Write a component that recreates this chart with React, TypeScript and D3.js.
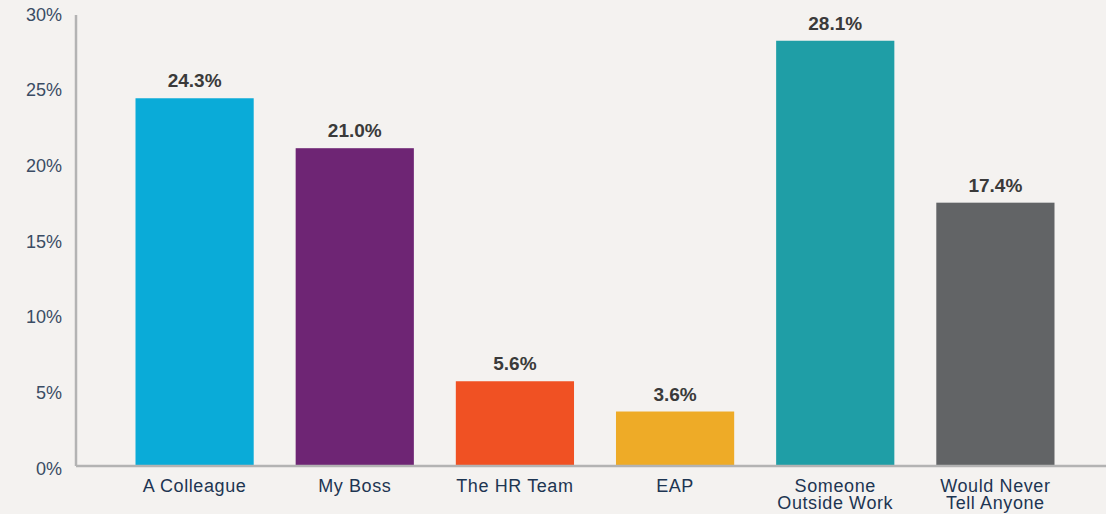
import React from "react";
import * as d3 from "d3";

const categories: string[][] = [
  ["A Colleague"],
  ["My Boss"],
  ["The HR Team"],
  ["EAP"],
  ["Someone", "Outside Work"],
  ["Would Never", "Tell Anyone"],
];
const values: number[] = [24.3, 21.0, 5.6, 3.6, 28.1, 17.4];
const colors: string[] = ["#0aabd8", "#6e2574", "#f05123", "#eeab27", "#1f9ea6", "#626466"];
const yTicks: number[] = [0, 5, 10, 15, 20, 25, 30];

const W = 1106;
const H = 514;

export default function App() {
  const keys = categories.map((c) => c.join(" "));
  const x = d3.scaleBand<string>().domain(keys).range([135.5, 1054.5]).paddingInner(0.262).paddingOuter(0);
  const y = d3.scaleLinear().domain([0, 30]).range([466, 12]);
  const font = "'Liberation Sans', Arial, Helvetica, sans-serif";
  return (
    <svg width={W} height={H} style={{ position: "absolute", left: 0, top: 0, display: "block", background: "#f4f2f0" }}>
      <rect x={0} y={0} width={W} height={H} fill="#f4f2f0" />
      {values.map((v, i) => (
        <rect key={keys[i]} x={x(keys[i])} y={y(v)} width={x.bandwidth()} height={y(0) - y(v)} fill={colors[i]} />
      ))}
      <line x1={76} x2={76} y1={15} y2={y(0)} stroke="#b3b3b3" strokeWidth={2.5} />
      <line x1={76} x2={W} y1={y(0)} y2={y(0)} stroke="#b3b3b3" strokeWidth={2.5} />
      {yTicks.map((t) => (
        <text key={t} x={62} y={y(t) + 2.5} textAnchor="end" dominantBaseline="central" fontFamily={font} fontSize={18} fill="#3a4c64">
          {t}%
        </text>
      ))}
      {values.map((v, i) => (
        <text key={"l" + i} x={(x(keys[i]) as number) + x.bandwidth() / 2} y={y(v) - 11} textAnchor="middle" fontFamily={font} fontSize={19} fontWeight="bold" fill="#3a3a3a">
          {v.toFixed(1)}%
        </text>
      ))}
      {categories.map((lines, i) => (
        <text key={"c" + i} x={(x(keys[i]) as number) + x.bandwidth() / 2} textAnchor="middle" fontFamily={font} fontSize={18} fill="#1d3552" letterSpacing={0.6}>
          {lines.map((ln, j) => (
            <tspan key={j} x={(x(keys[i]) as number) + x.bandwidth() / 2} y={491.5 + j * 17.5}>
              {ln}
            </tspan>
          ))}
        </text>
      ))}
    </svg>
  );
}
